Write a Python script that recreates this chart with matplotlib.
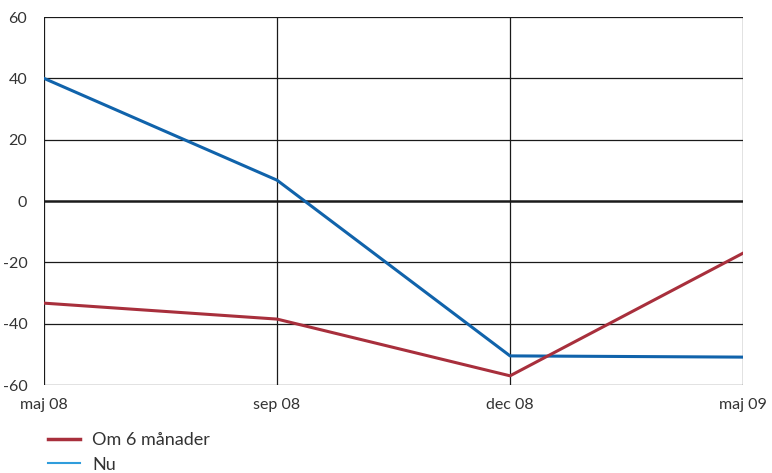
import matplotlib
matplotlib.use('Agg')
import matplotlib.pyplot as plt
from matplotlib.lines import Line2D

# Data
periods = ['maj 08', 'sep 08', 'dec 08', 'maj 09']
nu = [40, 6.8, -50.5, -50.9]
om_6_manader = [-33.3, -38.5, -57, -17]
yticks = [-60, -40, -20, 0, 20, 40, 60]

plt.rcParams['font.family'] = ['Lato', 'DejaVu Sans']
plt.rcParams['axes.unicode_minus'] = False

fig = plt.figure(figsize=(7.72, 4.73), dpi=100)
ax = fig.add_axes([0.057, 0.186, 0.9055, 0.778])

x = list(range(len(periods)))

# grid
for yv in yticks:
    ax.axhline(yv, color='#1a1a1a', lw=1.8 if yv == 0 else 0.9, zorder=1)
for xv in x:
    ax.axvline(xv, color='#1a1a1a', lw=0.9, zorder=1)

ax.plot(x, nu, color='#1063ab', lw=2.2, zorder=3)
ax.plot(x, om_6_manader, color='#a82f3c', lw=2.2, zorder=3)

ax.set_xlim(0, 3)
ax.set_ylim(-60, 60)
ax.set_yticks(yticks)
ax.set_xticks(x)
ax.set_xticklabels(periods)
ax.tick_params(length=0, labelsize=11.5, colors='#333333', pad=9)
ax.tick_params(axis='y', pad=12)
for s in ax.spines.values():
    s.set_visible(False)

handles = [Line2D([], [], color='#a82f3c', lw=2.5),
           Line2D([], [], color='#2f9ddc', lw=1.5)]
fig.legend(handles, ['Om 6 månader', 'Nu'], loc='upper left',
           bbox_to_anchor=(0.062, 0.087), frameon=False, fontsize=13,
           handlelength=1.8, handletextpad=0.65, labelspacing=0.48,
           labelcolor='#333333', borderaxespad=0, borderpad=0)

fig.savefig('out.png', dpi=100)
